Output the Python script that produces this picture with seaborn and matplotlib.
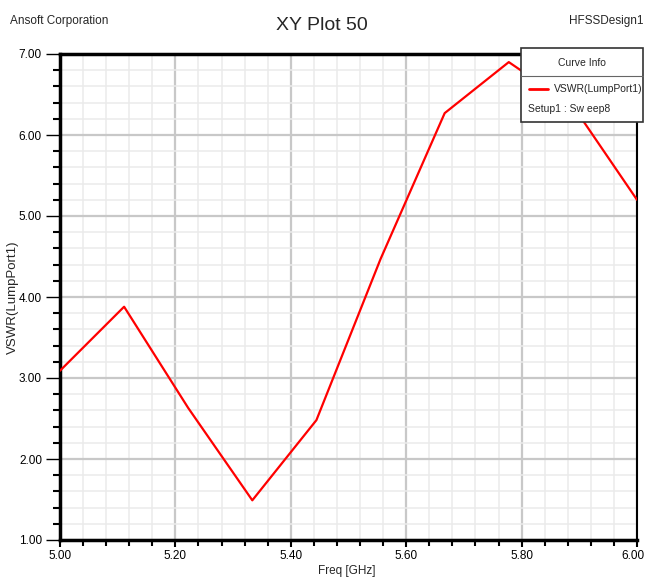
import matplotlib
matplotlib.use("Agg")
import matplotlib.pyplot as plt
import seaborn as sns
import pandas as pd
from matplotlib.ticker import MultipleLocator, FormatStrFormatter
from matplotlib.patches import Rectangle
from matplotlib.lines import Line2D
from matplotlib.transforms import ScaledTranslation

# datos
freq_ghz = [5.0, 5.1111, 5.2222, 5.3333, 5.4444, 5.5556, 5.6667, 5.7778, 5.8889, 6.0]
vswr = [3.09, 3.88, 2.63, 1.49, 2.48, 4.47, 6.27, 6.90, 6.36, 5.20]
nombre_curva = "VSWR(LumpPort1)"
nombre_setup = "Setup1 : Sw eep8"

df = pd.DataFrame({"Freq": freq_ghz, "VSWR": vswr})

sns.set_style("white")
plt.rcParams["font.family"] = ["Liberation Sans", "DejaVu Sans"]

fig = plt.figure(figsize=(6.46, 5.78), dpi=100)
ax = fig.add_axes([60 / 646, 38 / 578, 577 / 646, 486 / 578])

sns.lineplot(data=df, x="Freq", y="VSWR", ax=ax, color="#ff0000", linewidth=1.6, zorder=5)

ax.set_xlim(5.0, 6.0)
ax.set_ylim(1.0, 7.0)
ax.xaxis.set_major_locator(MultipleLocator(0.2))
ax.xaxis.set_minor_locator(MultipleLocator(0.04))
ax.yaxis.set_major_locator(MultipleLocator(1.0))
ax.yaxis.set_minor_locator(MultipleLocator(0.2))
ax.xaxis.set_major_formatter(FormatStrFormatter("%.2f"))
ax.yaxis.set_major_formatter(FormatStrFormatter("%.2f"))

ax.grid(which="major", color="#c8c8c8", linewidth=1.6, zorder=1)
ax.grid(which="minor", color="#ebebeb", linewidth=1.1, zorder=0)
ax.set_axisbelow(True)

ax.tick_params(axis="y", which="major", direction="out", length=10, width=1, labelsize=8.5, pad=3)
ax.tick_params(axis="y", which="minor", direction="out", length=5, width=1.5, color="black")
ax.tick_params(axis="x", which="major", direction="out", length=5, width=1.5, labelsize=8.5, pad=2)
ax.tick_params(axis="x", which="minor", direction="out", length=4, width=1.5, color="black")
ax.tick_params(which="both", left=True, bottom=True, colors="black")

# la etiqueta 6.00 queda pegada al borde derecho
fig.canvas.draw()
for tick in ax.xaxis.get_major_ticks():
    if tick.label1.get_text() == "6.00":
        t = tick.label1
        t.set_transform(t.get_transform() + ScaledTranslation(-0.04, 0, fig.dpi_scale_trans))

for lado in ["left", "bottom", "top"]:
    ax.spines[lado].set_linewidth(2.5)
    ax.spines[lado].set_color("black")
ax.spines["right"].set_linewidth(1.5)
ax.spines["right"].set_color("black")

ax.set_xlabel("Freq [GHz]", fontsize=8.5)
ax.xaxis.set_label_coords((347 - 60) / 577, -(571 - 540) / 486)
ax.xaxis.label.set_va("center")
ax.set_ylabel("VSWR(LumpPort1)", fontsize=9.5)
ax.yaxis.set_label_coords((13 - 60) / 577, (540 - 297) / 486)
ax.yaxis.label.set_va("center")

# encabezados
fig.text(322 / 646, 1 - 25 / 578, "XY Plot 50", ha="center", va="center", fontsize=14)
fig.text(10 / 646, 1 - 21 / 578, "Ansoft Corporation", ha="left", va="center", fontsize=8.5)
fig.text(643 / 646, 1 - 21 / 578, "HFSSDesign1", ha="right", va="center", fontsize=8.5)

# cuadro "Curve Info"
caja = Rectangle((521 / 646, 1 - 122 / 578), 122 / 646, 74 / 578, transform=fig.transFigure,
                 facecolor="white", edgecolor="#333333", linewidth=1.2, zorder=10)
fig.add_artist(caja)
fig.add_artist(Line2D([521 / 646, 643 / 646], [1 - 76 / 578, 1 - 76 / 578], transform=fig.transFigure,
                      color="#666666", linewidth=0.8, zorder=11))
fig.text(582 / 646, 1 - 63 / 578, "Curve Info", ha="center", va="center", fontsize=7.5, zorder=12)
fig.add_artist(Line2D([529 / 646, 548 / 646], [1 - 89 / 578, 1 - 89 / 578], transform=fig.transFigure,
                      color="#ff0000", linewidth=2, zorder=12))
fig.text(554 / 646, 1 - 89 / 578, nombre_curva, ha="left", va="center", fontsize=7.5, zorder=12)
fig.text(528 / 646, 1 - 109 / 578, nombre_setup, ha="left", va="center", fontsize=7.5, zorder=12)

fig.savefig("out.png", dpi=100)
